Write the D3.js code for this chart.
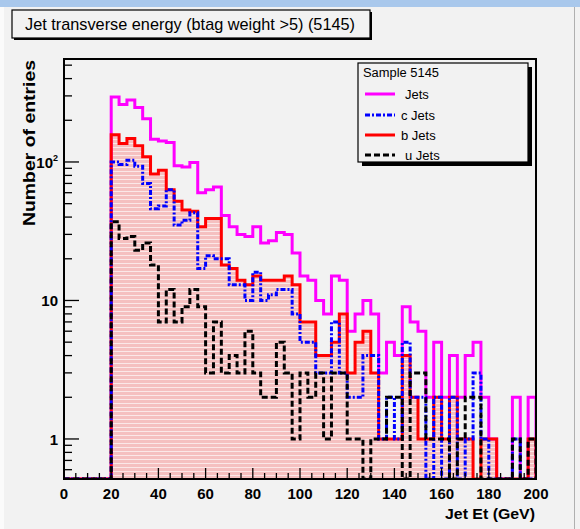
<!DOCTYPE html>
<html>
<head>
<meta charset="utf-8">
<script src="https://cdn.jsdelivr.net/npm/d3@7"></script>
<style>
  html, body { margin: 0; padding: 0; background: #f2f2f2; }
  svg { display: block; }
  text { font-family: "Liberation Sans", Arial, Helvetica, sans-serif; fill: #000; }
</style>
</head>
<body>
<svg id="chart" width="580" height="529"></svg>
<script>
// Jet Et histogram: 60 bins from 0 to 200 GeV
const nBins = 60;
const etRange = [0, 200];

// entries per bin (bin 0 = 0-3.33 GeV ... bin 59 = 196.67-200 GeV)
const jetsAll = [0,0,0,0,0,0, 294,260,280,247,205,146,142,138,94,92, 99,60,63,66,41,34,30,29,34,26, 27,31,30,22,15,14,10,8,15,14, 6,8,10,8,3,5,4,9,7,6, 2,5,2,4,2,4,5,2,1,0, 0,2,0,2];
const cJets   = [0,0,0,0,0,0, 100,96,103,93,70,46,48,63,35,38, 43,17,21,20,20,13,13,10,16,10, 11,12,12,8,5,5,3,3,7,3, 2,2,4,4,1,2,1,5,2,2, 0,2,0,2,0,1,3,1,0,0, 0,1,0,0];
const bJets   = [0,0,0,0,0,0, 157,136,148,131,109,82,87,63,52,45, 44,34,39,39,18,17,14,13,15,14, 14,14,15,13,7,7,4,4,5,8, 3,5,6,3,1,1,1,4,2,1, 1,2,1,2,1,1,0,1,1,0, 0,0,0,1];
const uJets   = [0,0,0,0,0,0, 37,28,29,23,26,18,7,12,7,9, 12,9,3,7,3,4,3,6,3,2, 2,5,3,1,3,2,3,1,3,3, 1,1,0,1,1,2,2,0,3,3, 1,1,1,0,1,2,2,0,0,0, 0,1,0,1];

const xTicks = [0, 20, 40, 60, 80, 100, 120, 140, 160, 180, 200];
const yTicks = [1, 10, 100];
const yDomain = [0.514, 554];

const titleText = "Jet transverse energy (btag weight >5) (5145)";
const legendHeader = "Sample 5145";
const legendLabels = ["Jets", "c Jets", "b Jets", "u Jets"];

const svg = d3.select("#chart");

// page decoration
svg.append("rect").attr("x", 0).attr("y", 0).attr("width", 580).attr("height", 529).attr("fill", "#f2f2f2");
svg.append("rect").attr("x", 0).attr("y", 0).attr("width", 580).attr("height", 7).attr("fill", "#a9c8ec");
svg.append("rect").attr("x", 0).attr("y", 7).attr("width", 4).attr("height", 522).attr("fill", "#fbfbfb");
svg.append("line").attr("x1", 574.5).attr("x2", 574.5).attr("y1", 7).attr("y2", 529).attr("stroke", "#b0b0b0").attr("stroke-width", 1);

// frame geometry
const fr = { left: 64, right: 536, top: 59, bottom: 479 };

const x = d3.scaleLinear().domain(etRange).range([fr.left, fr.right]);
const y = d3.scaleLog().domain(yDomain).range([fr.bottom, fr.top]).clamp(true);

const edges = d3.range(nBins + 1).map(i => etRange[0] + i * (etRange[1] - etRange[0]) / nBins);

const defs = svg.append("defs");
defs.append("clipPath").attr("id", "frameClip")
  .append("rect").attr("x", fr.left).attr("y", fr.top)
  .attr("width", fr.right - fr.left).attr("height", fr.bottom - fr.top);

// horizontal hatch used for the b-jet fill
const pat = defs.append("pattern").attr("id", "hatch")
  .attr("patternUnits", "userSpaceOnUse").attr("width", 8).attr("height", 4);
pat.append("rect").attr("width", 8).attr("height", 4).attr("fill", "#f5c0c0");
pat.append("rect").attr("y", 3).attr("width", 8).attr("height", 1).attr("fill", "#fbe8e8");

// step outline of a histogram
function stepPoints(vals) {
  const pts = [[edges[0], yDomain[0]]];
  vals.forEach((v, i) => {
    const vv = v > 0 ? v : yDomain[0];
    pts.push([edges[i], vv]);
    pts.push([edges[i + 1], vv]);
  });
  pts.push([edges[nBins], yDomain[0]]);
  return pts;
}
const line = d3.line().x(d => x(d[0])).y(d => y(d[1]));

const plot = svg.append("g").attr("clip-path", "url(#frameClip)");

// b-jet filled area
plot.append("path")
  .attr("d", line(stepPoints(bJets)) + "Z")
  .attr("fill", "url(#hatch)")
  .attr("stroke", "none");

const series = [
  { vals: jetsAll, color: "#ff00ff", dash: null },
  { vals: bJets,   color: "#ff0000", dash: null },
  { vals: cJets,   color: "#0000ff", dash: "5,2,2,2" },
  { vals: uJets,   color: "#000000", dash: "6,3" }
];
series.forEach(s => {
  plot.append("path")
    .attr("d", line(stepPoints(s.vals)))
    .attr("fill", "none")
    .attr("stroke", s.color)
    .attr("stroke-width", 3)
    .attr("stroke-linejoin", "miter")
    .attr("stroke-dasharray", s.dash);
});

// frame
svg.append("rect").attr("x", fr.left).attr("y", fr.top)
  .attr("width", fr.right - fr.left).attr("height", fr.bottom - fr.top)
  .attr("fill", "none").attr("stroke", "#000").attr("stroke-width", 2);

// x axis ticks (inward) and labels
const xMinor = d3.range(etRange[0], etRange[1] + 0.001, 5);
const axG = svg.append("g");
xMinor.forEach(v => {
  const major = xTicks.includes(v);
  axG.append("line").attr("x1", x(v)).attr("x2", x(v))
    .attr("y1", fr.bottom).attr("y2", fr.bottom - (major ? 11 : 6))
    .attr("stroke", "#000").attr("stroke-width", 1.3);
});
xTicks.forEach(v => {
  axG.append("text").attr("x", x(v)).attr("y", 499)
    .attr("text-anchor", "middle").attr("font-size", 15).attr("font-weight", "bold")
    .text(v);
});
svg.append("text").attr("x", 535).attr("y", 519).attr("text-anchor", "end")
  .attr("font-size", 15).attr("font-weight", "bold")
  .attr("textLength", 90).attr("lengthAdjust", "spacingAndGlyphs")
  .text("Jet Et (GeV)");

// y axis ticks (inward) and labels
const yMinor = [];
[0.1, 1, 10, 100].forEach(dec => {
  for (let m = 1; m <= 9; m++) {
    const v = m * dec;
    if (v >= yDomain[0] && v <= yDomain[1]) yMinor.push(v);
  }
});
yMinor.forEach(v => {
  const major = yTicks.includes(v);
  axG.append("line").attr("x1", fr.left).attr("x2", fr.left + (major ? 15 : 8))
    .attr("y1", y(v)).attr("y2", y(v))
    .attr("stroke", "#000").attr("stroke-width", 1.3);
});
yTicks.forEach(v => {
  const t = axG.append("text").attr("x", 58).attr("y", y(v) + 6)
    .attr("text-anchor", "end").attr("font-size", 15).attr("font-weight", "bold");
  if (v === 100) {
    t.append("tspan").text("10");
    t.append("tspan").attr("dy", -7).attr("font-size", 9).text("2");
  } else {
    t.text(v);
  }
});
svg.append("text")
  .attr("transform", "translate(35,143) rotate(-90)")
  .attr("text-anchor", "middle").attr("font-size", 16).attr("font-weight", "bold")
  .attr("textLength", 166).attr("lengthAdjust", "spacingAndGlyphs")
  .text("Number of entries");

// title box
svg.append("rect").attr("x", 14).attr("y", 12).attr("width", 358).attr("height", 28).attr("fill", "#000");
svg.append("rect").attr("x", 12).attr("y", 10).attr("width", 358).attr("height", 28)
  .attr("fill", "#f2f2f2").attr("stroke", "#000").attr("stroke-width", 1.2);
svg.append("text").attr("x", 25).attr("y", 30).attr("font-size", 17)
  .attr("textLength", 330).attr("lengthAdjust", "spacingAndGlyphs")
  .text(titleText);

// legend
const lg = { x: 358, y: 63, w: 170, h: 99 };
svg.append("rect").attr("x", lg.x + 4).attr("y", lg.y + 4).attr("width", lg.w).attr("height", lg.h).attr("fill", "#000");
svg.append("rect").attr("x", lg.x).attr("y", lg.y).attr("width", lg.w).attr("height", lg.h)
  .attr("fill", "#f2f2f2").attr("stroke", "#000").attr("stroke-width", 1.2);
svg.append("text").attr("x", 363).attr("y", 77).attr("font-size", 12)
  .attr("textLength", 76).attr("lengthAdjust", "spacingAndGlyphs").text(legendHeader);
const rowY = [94, 115, 135, 155];
const textX = [405, 401, 401, 405];
// legend order: Jets, c Jets, b Jets, u Jets
const legendSeries = [series[0], series[2], series[1], series[3]];
legendSeries.forEach((s, i) => {
  svg.append("line").attr("x1", 365).attr("x2", 395).attr("y1", rowY[i]).attr("y2", rowY[i])
    .attr("stroke", s.color).attr("stroke-width", 3).attr("stroke-dasharray", s.dash);
  svg.append("text").attr("x", textX[i]).attr("y", rowY[i] + 5).attr("font-size", 13)
    .text(legendLabels[i]);
});
</script>
</body>
</html>
